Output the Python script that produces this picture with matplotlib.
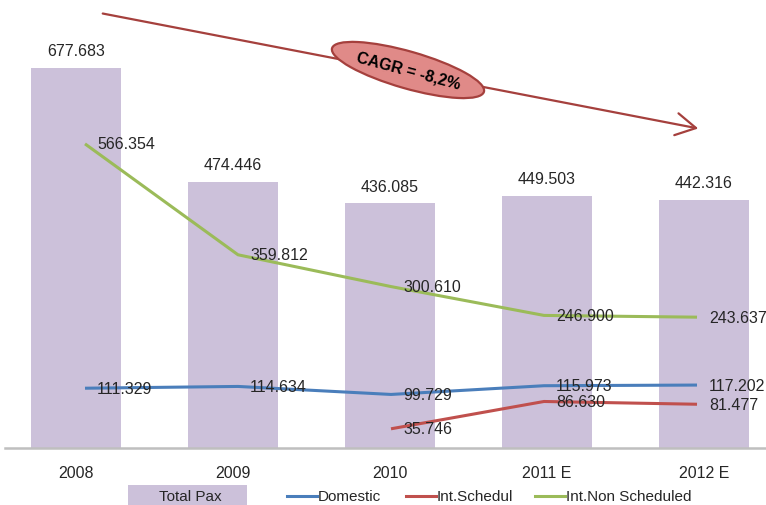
import matplotlib
matplotlib.use('Agg')
import matplotlib.pyplot as plt
from matplotlib.patches import Ellipse, Rectangle, FancyArrowPatch
from matplotlib.lines import Line2D

plt.rcParams['font.family'] = ['Liberation Sans', 'DejaVu Sans']

# data
years = ['2008', '2009', '2010', '2011 E', '2012 E']
total_pax = [677.683, 474.446, 436.085, 449.503, 442.316]
domestic = [111.329, 114.634, 99.729, 115.973, 117.202]
int_sched_years = [2, 3, 4]
int_sched = [35.746, 86.630, 81.477]
int_non_sched = [566.354, 359.812, 300.610, 246.900, 243.637]

bar_color = '#ccc1da'
dom_color = '#4a7ebb'
sch_color = '#c0504d'
non_color = '#9bbb59'
txt_color = '#262626'

W, H = 766, 506
fig = plt.figure(figsize=(W / 100, H / 100), dpi=100)

# axes box in pixels (from top-left)
left, right, top, bottom = 5, 766, 56, 449
rect = [left / W, 1 - bottom / H, (right - left) / W, (bottom - top) / H]

# bars on primary axes
ax = fig.add_axes(rect)
x = list(range(len(years)))
ax.bar(x, total_pax, width=0.57, color=bar_color, zorder=1)
ax.set_xlim(-(76 - left) / 157, (right - 76) / 157)
ax.set_ylim(0, 700)
for s in ['top', 'left', 'right']:
    ax.spines[s].set_visible(False)
ax.spines['bottom'].set_color('#bfbfbf')
ax.spines['bottom'].set_linewidth(1.8)
ax.set_yticks([])
ax.set_xticks(x)
ax.set_xticklabels(years, fontsize=11.5, color=txt_color)
ax.tick_params(axis='x', length=0, pad=12)
for i, v in enumerate(total_pax):
    ax.annotate(f'{v:.3f}', (i, v), xytext=(0, 17), textcoords='offset pixels',
                ha='center', va='center', fontsize=11.5, color=txt_color)

# lines on secondary axes (own x and y scale, like the original)
ax2 = fig.add_axes(rect, frameon=False)
ax2.set_xlim(-(85 - left) / 153, (right - 85) / 153)
ax2.set_ylim(0, (bottom - top) / 0.537)
ax2.set_xticks([])
ax2.set_yticks([])
ax2.plot(x, int_non_sched, color=non_color, lw=2.2, solid_capstyle='butt')
ax2.plot(x, domestic, color=dom_color, lw=2.2, solid_capstyle='butt')
ax2.plot(int_sched_years, int_sched, color=sch_color, lw=2.2, solid_capstyle='butt')


def label_points(xs, vals):
    for xi, v in zip(xs, vals):
        ax2.annotate(f'{v:.3f}', (xi, v), xytext=(12, 0), textcoords='offset pixels',
                     ha='left', va='center', fontsize=11.5, color=txt_color)


label_points(x, int_non_sched)
label_points(x, domestic)
label_points(int_sched_years, int_sched)

# overlay in pixel coordinates for arrow, CAGR bubble and legend
ov = fig.add_axes([0, 0, 1, 1], frameon=False)
ov.set_xlim(0, W)
ov.set_ylim(H, 0)
ov.set_xticks([])
ov.set_yticks([])

arrow_color = '#a5403d'
ov.add_patch(FancyArrowPatch((100, 14), (701, 130), arrowstyle='->,head_length=9,head_width=5',
                             color=arrow_color, lw=1.6, mutation_scale=1.6))
ov.add_patch(Ellipse((408, 71), 158, 37, angle=16, facecolor='#e08a88',
                     edgecolor=arrow_color, lw=1.6, zorder=3))
ov.text(408, 71, 'CAGR = -8,2%', rotation=-15, ha='center', va='center',
        fontsize=11.5, fontweight='bold', color='black', zorder=4)

# legend
ov.add_patch(Rectangle((128, 486), 119, 20, facecolor=bar_color, edgecolor='none'))
ov.text(190, 497, 'Total Pax', ha='center', va='center', fontsize=11, color=txt_color)
for x0, x1, c, lab in [(287, 317, dom_color, 'Domestic'),
                       (406, 436, sch_color, 'Int.Schedul'),
                       (535, 565, non_color, 'Int.Non Scheduled')]:
    ov.add_line(Line2D([x0, x1], [497, 497], color=c, lw=2.2))
    ov.text(x1 + 1, 497, lab, ha='left', va='center', fontsize=11, color=txt_color)

fig.savefig('out.png', dpi=100)
